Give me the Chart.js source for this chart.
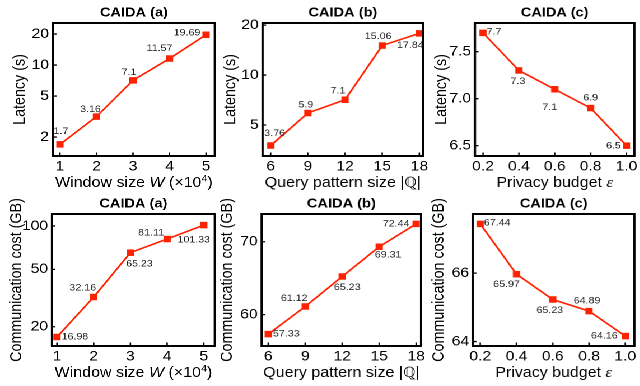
<!DOCTYPE html>
<html>
<head>
<meta charset="utf-8">
<script src="https://cdn.jsdelivr.net/npm/chart.js@4.4.1/dist/chart.umd.min.js"></script>
<style>
  html, body { margin: 0; padding: 0; background: #fff; }
  /* the figure is slightly wider than tall fonts suggest, so stretch the stage */
  #stage { position: absolute; left: 0; top: 0; width: 571.43px; height: 386px;
           transform: scaleX(1.12); transform-origin: 0 0; }
  .cell { position: absolute; }
</style>
</head>
<body>
<div id="stage"></div>
<script>
// x categories
const windowSizes = [1, 2, 3, 4, 5];
const patternSizes = [6, 9, 12, 15, 18];
const privacyBudgets = [0.2, 0.4, 0.6, 0.8, 1.0];

// series
const latencyWindow = [1.7, 3.16, 7.1, 11.57, 19.69];
const latencyPattern = [3.76, 5.9, 7.1, 15.06, 17.84];
const latencyPrivacy = [7.7, 7.3, 7.1, 6.9, 6.5];
const commWindow = [16.98, 32.16, 65.23, 81.11, 101.33];
const commPattern = [57.33, 61.12, 65.23, 69.31, 72.44];
const commPrivacy = [67.44, 65.97, 65.23, 64.89, 64.16];

// y tick labels
const latencyWindowTicks = [2, 5, 10, 20];
const latencyPatternTicks = [5, 10, 20];
const latencyPrivacyTicks = [6.5, 7.0, 7.5];
const commWindowTicks = [20, 50, 100];
const commPatternTicks = [60, 70];
const commPrivacyTicks = [64, 66];

const SX = 1.12;
const FONT = '"Liberation Sans", Arial, Helvetica, sans-serif';
const RED = '#ff2200';

const titleWindow = [['Window size ', ''], ['W', 'italic'], [' (\u00d710', ''], ['4', 'sup'], [')', '']];
const titlePattern = [['Query pattern size |', ''], ['\u211a', ''], ['|', '']];
const titlePrivacy = [['Privacy budget ', ''], ['\u03b5', 'eps']];

const fmt1 = v => Number(v).toFixed(1);
const fmtN = v => String(v);

const panels = [
  { title: 'CAIDA (a)', xs: windowSizes, ys: latencyWindow, xTitle: titleWindow, yTitle: 'Latency (s)',
    yType: 'logarithmic', yMin: 1.31, yMax: 25.6, yTicks: latencyWindowTicks, xMin: 0.81, xMax: 5.24,
    xFmt: fmtN, yFmt: fmtN, cell: [0, 0, 220, 193], plot: [53, 23, 216, 156], yGap: 33,
    offs: [[1, -13], [-6, -7], [-4, -8], [-10, -10], [-19, -2]] },
  { title: 'CAIDA (b)', xs: patternSizes, ys: latencyPattern, xTitle: titlePattern, yTitle: 'Latency (s)',
    yType: 'logarithmic', yMin: 3.25, yMax: 20.6, yTicks: latencyPatternTicks, xMin: 5.35, xMax: 18.3,
    xFmt: fmtN, yFmt: fmtN, cell: [220, 0, 430, 193], plot: [263, 23, 423, 156], yGap: 32,
    offs: [[4, -12], [-2, -8], [-7, -9], [-4, -9], [-9, 12]] },
  { title: 'CAIDA (c)', xs: privacyBudgets, ys: latencyPrivacy, xTitle: titlePrivacy, yTitle: 'Latency (s)',
    yType: 'linear', yMin: 6.39, yMax: 7.805, yTicks: latencyPrivacyTicks, xMin: 0.155, xMax: 1.044,
    xFmt: fmt1, yFmt: fmt1, cell: [430, 0, 640, 193], plot: [475, 23, 638, 156], yGap: 33,
    offs: [[11, -1], [-1, 11], [-5, 18], [0, -10], [-13, 0]] },
  { title: 'CAIDA (a)', xs: windowSizes, ys: commWindow, xTitle: titleWindow, yTitle: 'Communication cost (GB)',
    yType: 'logarithmic', yMin: 14.7, yMax: 121, yTicks: commWindowTicks, xMin: 0.864, xMax: 5.3,
    xFmt: fmtN, yFmt: fmtN, cell: [0, 183, 220, 386], plot: [52, 214, 215, 346], yGap: 35,
    offs: [[18, 0], [-11, -9], [9, 11], [-16, -6], [-10, 15]] },
  { title: 'CAIDA (b)', xs: patternSizes, ys: commPattern, xTitle: titlePattern, yTitle: 'Communication cost (GB)',
    yType: 'linear', yMin: 55.7, yMax: 73.8, yTicks: commPatternTicks, xMin: 5.46, xMax: 18.4,
    xFmt: fmtN, yFmt: fmtN, cell: [220, 183, 430, 386], plot: [262, 214, 421, 346], yGap: 34,
    offs: [[18, 0], [-11, -8], [5, 11], [9, 8], [-20, 0]] },
  { title: 'CAIDA (c)', xs: privacyBudgets, ys: commPrivacy, xTitle: titlePrivacy, yTitle: 'Communication cost (GB)',
    yType: 'linear', yMin: 63.87, yMax: 67.73, yTicks: commPrivacyTicks, xMin: 0.16, xMax: 1.05,
    xFmt: fmt1, yFmt: fmtN, cell: [430, 183, 640, 386], plot: [473, 214, 636, 346], yGap: 34,
    offs: [[17, -1], [-10, 10], [-3, 11], [-2, -10], [-21, 0]] }
];

// frame, inward ticks, titles and value labels
const decor = {
  id: 'decor',
  afterDatasetsDraw(chart) {
    const p = chart.options.plugins.decor.panel;
    const ctx = chart.ctx;
    const meta = chart.getDatasetMeta(0);
    ctx.save();
    ctx.font = '9.5px ' + FONT;
    ctx.fillStyle = '#222';
    ctx.textAlign = 'center';
    ctx.textBaseline = 'middle';
    meta.data.forEach((pt, i) => {
      const o = p.offs[i];
      ctx.fillText(String(p.ys[i]), pt.x + o[0] / SX, pt.y + o[1]);
    });
    ctx.restore();
  },
  afterDraw(chart) {
    const p = chart.options.plugins.decor.panel;
    const ctx = chart.ctx;
    const a = chart.chartArea;
    const xs = chart.scales.x;
    const ys = chart.scales.y;
    ctx.save();
    ctx.strokeStyle = '#000';
    ctx.lineWidth = 1.3;
    ctx.beginPath();
    xs.ticks.forEach(t => {
      const px = xs.getPixelForValue(t.value);
      ctx.moveTo(px, a.bottom); ctx.lineTo(px, a.bottom - 3.5);
    });
    ys.ticks.forEach(t => {
      const py = ys.getPixelForValue(t.value);
      ctx.moveTo(a.left, py); ctx.lineTo(a.left + 3.5 / SX, py);
    });
    ctx.stroke();
    ctx.lineWidth = 2;
    ctx.strokeRect(a.left, a.top, a.right - a.left, a.bottom - a.top);

    // title
    ctx.fillStyle = '#000';
    ctx.textAlign = 'center';
    ctx.textBaseline = 'middle';
    ctx.font = 'bold 13px ' + FONT;
    ctx.fillText(p.title, (a.left + a.right) / 2, a.top - 10);

    // y title
    ctx.save();
    ctx.translate(a.left - p.yGap / SX, (a.top + a.bottom) / 2);
    ctx.rotate(-Math.PI / 2);
    ctx.font = '14.3px ' + FONT;
    ctx.fillText(p.yTitle, 0, 0);
    ctx.restore();

    // x title, mixed styles
    const fontOf = k => k === 'italic' ? 'italic 14.3px ' + FONT
      : k === 'sup' ? '9.5px ' + FONT
      : k === 'eps' ? 'italic 15px "Liberation Serif", serif'
      : '14.3px ' + FONT;
    let total = 0;
    const widths = p.xTitle.map(s => { ctx.font = fontOf(s[1]); const w = ctx.measureText(s[0]).width; total += w; return w; });
    let x = (a.left + a.right) / 2 - total / 2;
    const base = a.bottom + 31;
    ctx.textAlign = 'left';
    ctx.textBaseline = 'alphabetic';
    p.xTitle.forEach((s, i) => {
      ctx.font = fontOf(s[1]);
      ctx.fillText(s[0], x, s[1] === 'sup' ? base - 5.5 : base);
      x += widths[i];
    });
    ctx.restore();
  }
};

const stage = document.getElementById('stage');

panels.forEach(p => {
  const [cl, ct, cr, cb] = p.cell;
  const [pl, pt, pr, pb] = p.plot;
  const box = document.createElement('div');
  box.className = 'cell';
  box.style.left = (cl / SX) + 'px';
  box.style.top = ct + 'px';
  box.style.width = ((cr - cl) / SX) + 'px';
  box.style.height = (cb - ct) + 'px';
  const canvas = document.createElement('canvas');
  box.appendChild(canvas);
  stage.appendChild(box);

  new Chart(canvas.getContext('2d'), {
    type: 'scatter',
    data: {
      datasets: [{
        data: p.xs.map((x, i) => ({ x: x, y: p.ys[i] })),
        showLine: true,
        borderColor: RED,
        backgroundColor: RED,
        borderWidth: 1.6,
        pointStyle: 'rect',
        pointRadius: 4.6,
        pointBorderWidth: 0,
        clip: false
      }]
    },
    options: {
      responsive: true,
      maintainAspectRatio: false,
      animation: false,
      devicePixelRatio: 2,
      layout: { padding: { top: pt - ct, right: (cr - pr) / SX, left: 0, bottom: 0 } },
      plugins: { legend: { display: false }, tooltip: { enabled: false }, decor: { panel: p } },
      scales: {
        x: {
          type: 'linear', min: p.xMin, max: p.xMax, bounds: 'data',
          grid: { display: false, drawTicks: false }, border: { display: false },
          ticks: { font: { size: 14, family: FONT }, color: '#000', padding: 2, maxRotation: 0, autoSkip: false,
                   callback: v => p.xFmt(v) },
          afterBuildTicks: s => { s.ticks = p.xs.map(v => ({ value: v })); },
          afterFit: s => { s.height = cb - pb; s.paddingLeft = 0; s.paddingRight = 0; }
        },
        y: {
          type: p.yType, min: p.yMin, max: p.yMax, bounds: 'data',
          grid: { display: false, drawTicks: false }, border: { display: false },
          ticks: { font: { size: 14, family: FONT }, color: '#000', padding: 3.5, autoSkip: false,
                   callback: v => p.yFmt(v) },
          afterBuildTicks: s => { s.ticks = p.yTicks.map(v => ({ value: v })); },
          afterFit: s => { s.width = (pl - cl) / SX; s.paddingTop = 0; s.paddingBottom = 0; }
        }
      }
    },
    plugins: [decor]
  });
});
</script>
</body>
</html>
